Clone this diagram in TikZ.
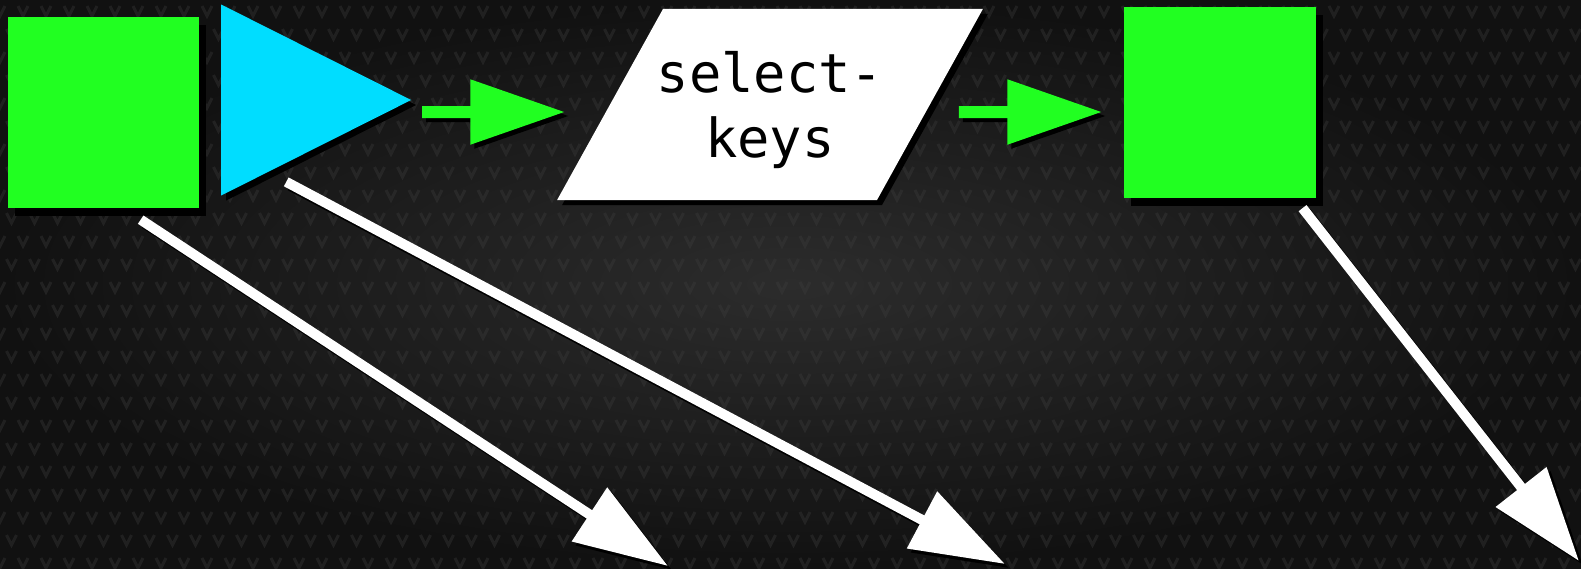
\documentclass[tikz,border=0pt]{standalone}
\usepackage{fontspec}
\setmonofont{DejaVu Sans Mono}
\usepackage{tikz}
\usetikzlibrary{shapes.geometric,arrows.meta,shadows,calc}
\definecolor{boxgreen}{RGB}{33,255,33}
\definecolor{tricyan}{RGB}{0,221,255}
\definecolor{bgcentre}{RGB}{44,44,44}
\definecolor{bgedge}{RGB}{17,17,17}
\definecolor{weave}{RGB}{62,62,62}
\tikzstyle{shadowed} = [drop shadow={opacity=1, fill=black, shadow xshift=0.05cm, shadow yshift=-0.05cm}]
\tikzstyle{block} = [rectangle, fill=boxgreen, inner sep=0pt,
    minimum width=1.91cm, minimum height=1.91cm,
    drop shadow={opacity=1, fill=black, shadow xshift=0.07cm, shadow yshift=-0.08cm}]
\tikzstyle{source} = [isosceles triangle, isosceles triangle stretches, fill=tricyan,
    inner sep=0pt, minimum width=1.91cm, minimum height=1.90cm, shadowed]
\tikzstyle{filter} = [trapezium, trapezium left angle=61, trapezium right angle=119,
    trapezium stretches body, fill=white, inner xsep=-0.07cm, inner ysep=0.43cm, minimum width=4.26cm,
    font=\ttfamily\fontsize{15.3}{18.3}\selectfont, align=center, text depth=0pt, shadowed]
\tikzstyle{flow} = [line width=0.12cm, -{Triangle[length=0.95cm,width=0.62cm]}]
\tikzstyle{output} = [line width=0.10cm, -{Triangle[length=0.94cm,width=0.62cm]}]

\begin{document}
\begin{tikzpicture}
    % background
    \useasboundingbox (0,0) rectangle (15.81,-5.68);
    \shade[inner color=bgcentre, outer color=bgedge] (0,0) rectangle (15.81,-5.68);
    \draw[weave, line width=0.03cm, opacity=0.35]
      \foreach \j in {0,...,24} {
        \foreach \i in {0,...,69} {
          ({0.23*\i+0.115*mod(\j,2)-0.05},{-0.23*\j-0.06}) -- ({0.23*\i+0.115*mod(\j,2)},{-0.23*\j-0.16})
            -- ({0.23*\i+0.115*mod(\j,2)+0.05},{-0.23*\j-0.06})
        }
      };

    \node[block] (sq1) at (1.035,-1.125) {};
    \node[source, anchor=apex] (tri) at (4.13,-1.00) {};
    \node[filter] (keys) at (7.70,-1.045) {select-\\keys};
    \node[block, minimum width=1.92cm] (sq2) at (12.20,-1.025) {};

    \coordinate (e1) at (6.68,-5.66);
    \coordinate (e2) at (10.05,-5.64);
    \coordinate (e3) at (15.79,-5.61);

    % black copy first, then the coloured arrows on top
    \foreach \d/\gcol/\wcol in {0.04/black/black, 0/boxgreen/white} {
      \begin{scope}[transform canvas={shift={(\d,-\d)}}]
        \draw[flow, draw=\gcol] ([xshift=0.09cm,yshift=-0.12cm]tri.apex) -- ([xshift=-0.44cm,yshift=-0.075cm]keys.west);
        \draw[flow, draw=\gcol] ([xshift=0.28cm,yshift=-0.075cm]keys.east) -- ([xshift=-0.21cm,yshift=-0.095cm]sq2.west);
        \draw[output, draw=\wcol, shorten <=0.2cm] (sq1.-78) -- (e1);
        \draw[output, draw=\wcol, shorten <=0.2cm] ($(tri.apex)!0.75!(tri.right corner)$) -- (e2);
        \draw[output, draw=\wcol, shorten <=0.12cm] (sq2.-52) -- (e3);
      \end{scope}
    }
\end{tikzpicture}
\end{document}
